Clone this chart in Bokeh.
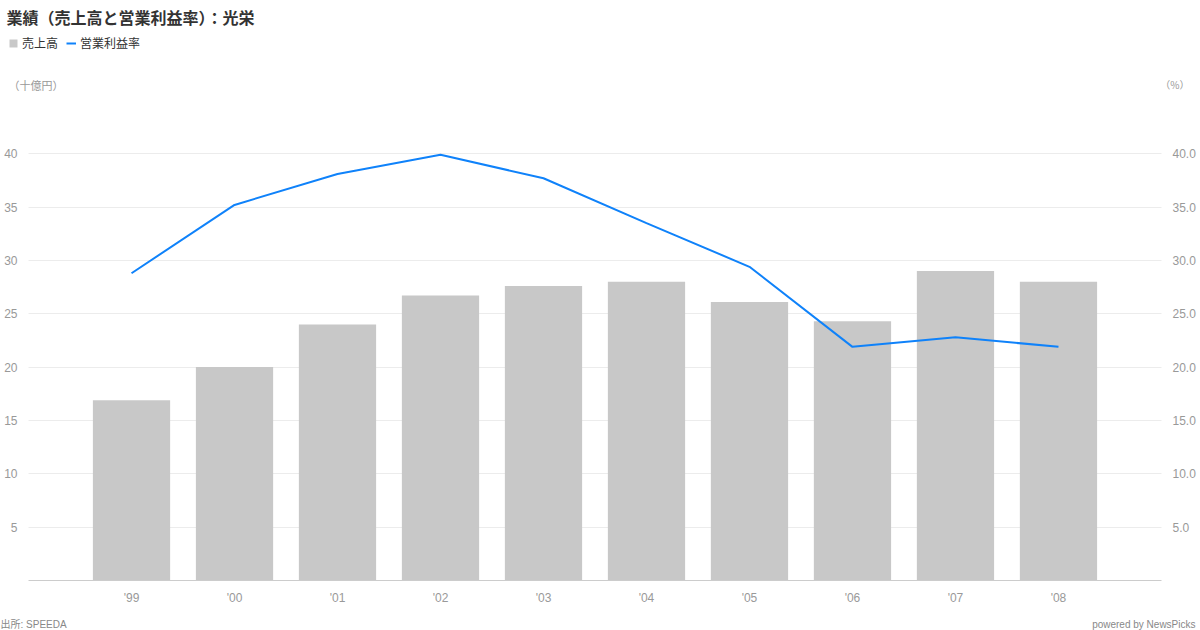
from bokeh.plotting import figure
from bokeh.models import (ColumnDataSource, Range1d, LinearAxis, FixedTicker, Legend,
                          LegendItem, Label, NumeralTickFormatter)
from bokeh.embed import file_html
from bokeh.resources import INLINE

years = ["'99", "'00", "'01", "'02", "'03", "'04", "'05", "'06", "'07", "'08"]
sales = [16.9, 20.0, 24.0, 26.7, 27.6, 28.0, 26.1, 24.3, 29.0, 28.0]
op_margin = [28.8, 35.2, 38.1, 39.9, 37.7, 33.5, 29.4, 21.9, 22.8, 21.9]
y_ticks = [5, 10, 15, 20, 25, 30, 35, 40]

FONT = "Liberation Sans, Noto Sans CJK JP"
JFONT = "Noto Sans CJK JP"
BAR = "#c8c8c8"
LINE = "#0f82fa"

W, H = 1200, 630
n = len(years)
idx = list(range(n))
src = ColumnDataSource(dict(x=idx, sales=sales, margin=op_margin))

# plot area: categories at 103 px pitch, value axis 10.67 px per unit
x_lo, x_hi = -1.272, n + 0.379
y_lo, y_hi = -4.686, 54.36

p = figure(width=W, height=H, output_backend="svg", toolbar_location=None, title=None,
           x_range=Range1d(x_lo, x_hi), y_range=Range1d(y_lo, y_hi),
           min_border_left=0, min_border_right=0, min_border_bottom=0, min_border_top=0)

bars = p.vbar(x="x", top="sales", width=0.75, source=src, color=BAR, line_color=None)
line = p.line(x="x", y="margin", source=src, line_color=LINE, line_width=2)

p.outline_line_color = None
p.background_fill_color = "white"
p.border_fill_color = "white"

# x axis drawn at y = 0
xa = p.xaxis[0]
xa.fixed_location = 0
xa.bounds = (-1, n)
xa.ticker = FixedTicker(ticks=idx)
xa.major_label_overrides = {i: y for i, y in enumerate(years)}
xa.axis_line_color = "#cccccc"
xa.major_tick_line_color = None
xa.minor_tick_line_color = None
xa.major_label_text_color = "#999999"
xa.major_label_text_font = FONT
xa.major_label_text_font_size = "12px"
xa.major_label_standoff = 4
p.xgrid.grid_line_color = None

# left axis
ya = p.yaxis[0]
ya.fixed_location = -1
ya.ticker = FixedTicker(ticks=y_ticks)
ya.axis_line_color = None
ya.major_tick_line_color = None
ya.minor_tick_line_color = None
ya.major_label_text_color = "#999999"
ya.major_label_text_font = FONT
ya.major_label_text_font_size = "12px"
ya.major_label_standoff = 5
p.ygrid.ticker = FixedTicker(ticks=y_ticks)
p.ygrid.grid_line_color = "#ececec"
p.ygrid.cross_bounds = (-1, n)

# right axis
ra = LinearAxis(ticker=FixedTicker(ticks=y_ticks), formatter=NumeralTickFormatter(format="0.0"),
                fixed_location=n)
ra.axis_line_color = None
ra.major_tick_line_color = None
ra.minor_tick_line_color = None
ra.major_label_text_color = "#999999"
ra.major_label_text_font = FONT
ra.major_label_text_font_size = "12px"
ra.major_label_standoff = 5
p.add_layout(ra, "right")

# title
p.add_layout(Label(x=6, y=H - 16, x_units="screen", y_units="screen",
                   text="業績（売上高と営業利益率）：光栄",
                   text_font=JFONT, text_font_size="16px", text_font_style="bold",
                   text_color="#333333", text_baseline="middle", text_align="left"))

legend = Legend(items=[LegendItem(label="売上高", renderers=[bars]),
                       LegendItem(label="営業利益率", renderers=[line])],
                orientation="horizontal", location=(8, H - 51))
legend.label_text_font = JFONT
legend.label_text_font_size = "12px"
legend.label_text_color = "#333333"
legend.glyph_width = 10
legend.glyph_height = 10
legend.label_standoff = 4
legend.spacing = 8
legend.padding = 0
legend.margin = 0
legend.border_line_color = None
legend.background_fill_alpha = 0
legend.label_height = 12
p.add_layout(legend)

# unit labels
p.add_layout(Label(x=8, y=H - 84, x_units="screen", y_units="screen", text="（十億円）",
                   text_font=JFONT, text_font_size="11px", text_color="#999999",
                   text_baseline="middle", text_align="left"))
p.add_layout(Label(x=1189, y=H - 84, x_units="screen", y_units="screen", text="（%）",
                   text_font=JFONT, text_font_size="10px", text_color="#999999",
                   text_baseline="middle", text_align="right"))
# footer
p.add_layout(Label(x=0, y=6, x_units="screen", y_units="screen", text="出所: SPEEDA",
                   text_font=FONT, text_font_size="10px", text_color="#888888",
                   text_baseline="middle", text_align="left"))
p.add_layout(Label(x=1195, y=6, x_units="screen", y_units="screen", text="powered by NewsPicks",
                   text_font=FONT, text_font_size="10px", text_color="#888888",
                   text_baseline="middle", text_align="right"))

open("out.html", "w").write(file_html(p, INLINE))
